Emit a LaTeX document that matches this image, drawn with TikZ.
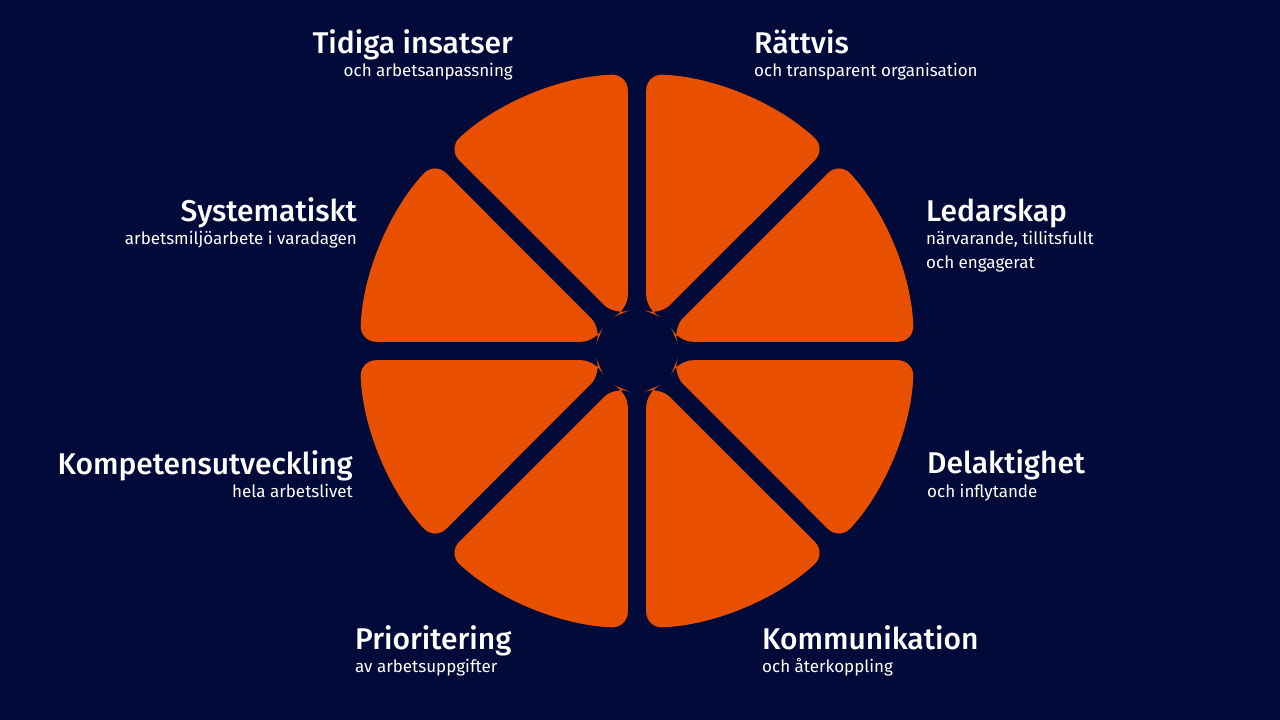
\documentclass[tikz,border=0pt]{standalone}
\usepackage{fontspec}
\setmainfont{Fira Sans}
\begin{document}
\begin{tikzpicture}[x=1pt,y=-1pt,
  wedge/.style={fill=wedgeorange,draw=none,rounded corners=16pt},
  ttl/.style={text=white,font=\fontsize{30}{32}\selectfont\fontspec{Fira Sans Medium},inner sep=0pt},
  sub/.style={text=white,font=\fontsize{17}{24}\selectfont,inner sep=0pt,align=left}]
\definecolor{bg}{HTML}{020A3A}
\definecolor{wedgeorange}{HTML}{E85000}
\fill[bg] (0,0) rectangle (1280,720);
\useasboundingbox (0,0) rectangle (1280,720);
\begin{scope}[shift={(637,351)}]
\foreach \a in {0,45,...,315}{
  \fill[wedge] (\a+13:41) -- (\a+1.9:277) arc[start angle=\a+1.9,end angle=\a+43.1,radius=277] -- (\a+32:41) -- cycle;
}
\end{scope}
\node[ttl,anchor=base east] (t1) at (513,53) {Tidiga insatser};
\node[sub,anchor=base east] (s1) at (513,76) {och arbetsanpassning};
\node[ttl,anchor=base west] (t2) at (754,53) {Rättvis};
\node[sub,anchor=base west] (s2) at (754,76) {och transparent organisation};
\node[ttl,anchor=base east] (t3) at (357,221) {Systematiskt};
\node[sub,anchor=base east] (s3) at (357,244) {arbetsmiljöarbete i varadagen};
\node[ttl,anchor=base west] (t4) at (926,221) {Ledarskap};
\node[sub,anchor=base west] (s4) at (926,244) {närvarande, tillitsfullt};
\node[sub,anchor=base west] (s4b) at (926,268) {och engagerat};
\node[ttl,anchor=base east] (t5) at (353,474) {Kompetensutveckling};
\node[sub,anchor=base east] (s5) at (353,497) {hela arbetslivet};
\node[ttl,anchor=base west] (t6) at (927,473) {Delaktighet};
\node[sub,anchor=base west] (s6) at (927,497) {och inflytande};
\node[ttl,anchor=base west] (t7) at (355,649) {Prioritering};
\node[sub,anchor=base west] (s7) at (355,672) {av arbetsuppgifter};
\node[ttl,anchor=base west] (t8) at (762,649) {Kommunikation};
\node[sub,anchor=base west] (s8) at (762,672) {och återkoppling};
\end{tikzpicture}
\end{document}
